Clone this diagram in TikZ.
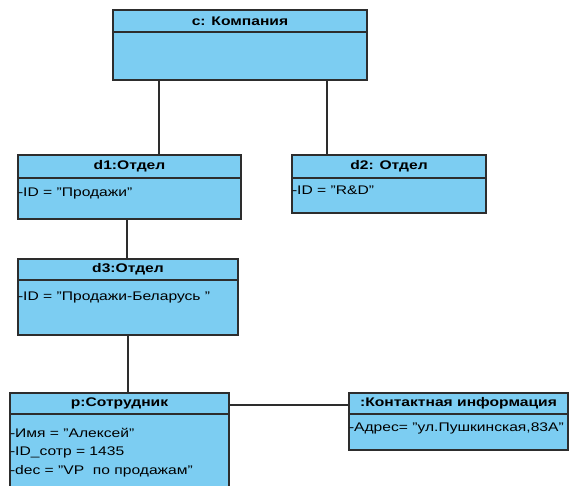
\documentclass[tikz,border=0pt]{standalone}
\usepackage{fontspec}
\setmainfont[FakeStretch=1.25]{Liberation Sans}
\usepackage{xcolor}
\definecolor{objfill}{RGB}{124,205,242}
\definecolor{objline}{RGB}{45,45,45}

\begin{document}
\begin{tikzpicture}[
    x=1pt, y=-1pt,
    every node/.style={
        inner sep=0pt,
        outer sep=0pt,
        font=\fontsize{12.5}{15}\selectfont
    },
    objbox/.style={
        rectangle,
        draw=objline,
        fill=objfill,
        line width=1.2pt,
        anchor=north west
    },
    hdr/.style={font=\fontsize{12.5}{15}\selectfont\bfseries},
    attr/.style={anchor=west},
    sep/.style={draw=objline, line width=1.2pt},
    link/.style={draw=objline, line width=1.2pt}
]
\useasboundingbox (0,0) rectangle (569,486);

% Company
\node[objbox, minimum width=254pt, minimum height=70pt] (c) at (113,10) {};
\draw[sep] ([yshift=-22pt]c.north west) -- ([yshift=-22pt]c.north east);
\node[hdr] (c-title) at ([yshift=-11pt]c.north) {c: Компания};

% Departments
\node[objbox, minimum width=223pt, minimum height=64pt] (d1) at (18,155) {};
\draw[sep] ([yshift=-23pt]d1.north west) -- ([yshift=-23pt]d1.north east);
\node[hdr] (d1-title) at ([yshift=-11.5pt]d1.north) {d1:Отдел};
\node[attr] (d1-id) at ([yshift=-38pt]d1.north west) {-ID = "Продажи"};

\node[objbox, minimum width=194pt, minimum height=58pt] (d2) at (292,155) {};
\draw[sep] ([yshift=-23pt]d2.north west) -- ([yshift=-23pt]d2.north east);
\node[hdr] (d2-title) at ([yshift=-11.5pt]d2.north) {d2: Отдел};
\node[attr] (d2-id) at ([yshift=-35pt]d2.north west) {-ID = "R\&D"};

\node[objbox, minimum width=220pt, minimum height=76pt] (d3) at (18,259) {};
\draw[sep] ([yshift=-21pt]d3.north west) -- ([yshift=-21pt]d3.north east);
\node[hdr] (d3-title) at ([yshift=-10.5pt]d3.north) {d3:Отдел};
\node[attr] (d3-id) at ([yshift=-38pt]d3.north west) {-ID = "Продажи-Беларусь "};

% Employee
\node[objbox, minimum width=219pt, minimum height=100pt] (p) at (10,393) {};
\draw[sep] ([yshift=-21pt]p.north west) -- ([yshift=-21pt]p.north east);
\node[hdr] (p-title) at ([yshift=-10.5pt]p.north) {p:Сотрудник};
\node[attr] (p-name) at ([yshift=-40pt]p.north west) {-Имя = "Алексей"};
\node[attr] (p-num) at ([yshift=-59pt]p.north west) {-ID\_сотр = 1435};
\node[attr] (p-dec) at ([yshift=-78pt]p.north west) {-dec = "VP\ \ по продажам"};

% Contact info
\node[objbox, minimum width=219pt, minimum height=57pt] (info) at (349,393) {};
\draw[sep] ([yshift=-21pt]info.north west) -- ([yshift=-21pt]info.north east);
\node[hdr] (info-title) at ([yshift=-10.5pt]info.north) {:Контактная информация};
\node[attr] (info-addr) at ([yshift=-35pt]info.north west) {-Адрес= "ул.Пушкинская,83А"};

% Links
\draw[link] ([xshift=46pt]c.south west) -- ([xshift=141pt]d1.north west);
\draw[link] ([xshift=214pt]c.south west) -- ([xshift=35pt]d2.north west);
\draw[link] ([xshift=109pt]d1.south west) -- ([xshift=109pt]d3.north west);
\draw[link] ([xshift=110pt]d3.south west) -- ([xshift=118pt]p.north west);
\draw[link] ([yshift=-12pt]p.north east) -- ([yshift=-12pt]info.north west);

\end{tikzpicture}
\end{document}
